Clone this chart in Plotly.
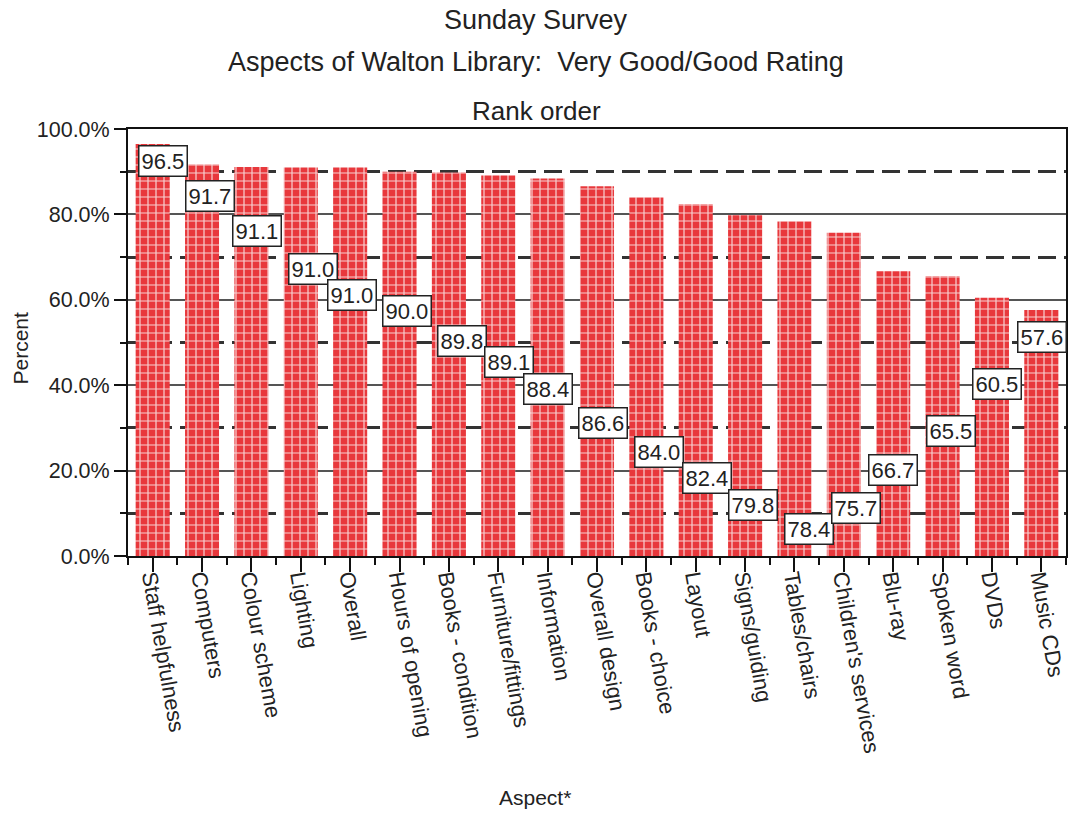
import plotly.graph_objects as go

categories = ["Staff helpfulness", "Computers", "Colour scheme", "Lighting", "Overall",
              "Hours of opening", "Books - condition", "Furniture/fittings", "Information",
              "Overall design", "Books - choice", "Layout", "Signs/guiding", "Tables/chairs",
              "Children's services", "Blu-ray", "Spoken word", "DVDs", "Music CDs"]
values = [96.5, 91.7, 91.1, 91.0, 91.0, 90.0, 89.8, 89.1, 88.4, 86.6,
          84.0, 82.4, 79.8, 78.4, 75.7, 66.7, 65.5, 60.5, 57.6]

# label box placement (data-percent height, pixel nudge right)
label_y = [92.4, 84.3, 76.1, 67.2, 61.1, 57.4, 50.4, 45.4, 39.1, 31.1,
           24.4, 18.3, 11.9, 6.3, 11.2, 20.1, 29.3, 40.3, 51.3]
label_dx = [10, 8, 5.5, 12, 2, 7, 13.5, 11, 0, 5.5, 13, 11, 8, 15, 12.5, 0, 8, 5, 1]

ytick_vals = [0, 20, 40, 60, 80, 100]

FONT = "Liberation Sans, Arial, sans-serif"
TXT = "#222222"

xpos = list(range(len(categories)))

fig = go.Figure()
fig.add_trace(go.Bar(
    x=xpos, y=values,
    marker=dict(
        color="#e8383c",
        line=dict(width=0),
        pattern=dict(shape="+", size=8, solidity=0.28,
                     fgcolor="#f8cfd0", bgcolor="#e8383c", fillmode="replace"),
    ),
    hoverinfo="x+y",
))

annotations = []
for i, v in enumerate(values):
    annotations.append(dict(
        x=xpos[i], y=label_y[i], xref="x", yref="y", text=f"{v:.1f}",
        showarrow=False, xshift=label_dx[i],
        font=dict(family=FONT, size=22, color=TXT),
        bgcolor="white", bordercolor="#222222", borderwidth=1.5, borderpad=2,
    ))

W, H = 1072, 814
ml, mr, mt, mb = 128, 6, 129, 258
pw = W - ml - mr
fig_center_x = (W / 2 - ml) / pw

titles = [("Sunday Survey", 20, 27),
          ("Aspects of Walton Library:\u00a0\u00a0Very Good/Good Rating", 62, 27),
          ("Rank order", 111, 26)]
for t, ypix, fs in titles:
    annotations.append(dict(
        x=fig_center_x, y=1, xref="paper", yref="paper", text=t, showarrow=False,
        yanchor="middle", xanchor="center", yshift=mt - ypix,
        font=dict(family=FONT, size=fs, color=TXT),
    ))

annotations.append(dict(
    x=(535 - ml) / pw, y=0, xref="paper", yref="paper", text="Aspect*", showarrow=False,
    yanchor="middle", xanchor="center", yshift=-(797 - (H - mb)),
    font=dict(family=FONT, size=21, color=TXT),
))
annotations.append(dict(
    x=0, y=0.5, xref="paper", yref="paper", text="Percent", showarrow=False,
    textangle=-90, xanchor="center", yanchor="middle", xshift=-(ml - 20), yshift=-6,
    font=dict(family=FONT, size=21, color=TXT),
))

fig.update_layout(
    width=W, height=H,
    margin=dict(l=ml, r=mr, t=mt, b=mb, autoexpand=False),
    paper_bgcolor="white", plot_bgcolor="white",
    showlegend=False, bargap=0.31,
    font=dict(family=FONT, size=22, color=TXT),
    annotations=annotations,
)

fig.update_xaxes(
    range=[-0.5, len(categories) - 0.5], automargin=False,
    tickmode="array", tickvals=xpos, ticktext=categories, tickangle=80,
    ticks="outside", ticklen=14, tickwidth=2, tickcolor="#111",
    ticklabelstandoff=-16,
    tickfont=dict(family=FONT, size=22, color=TXT),
    minor=dict(ticks="outside", ticklen=7, tickwidth=2, tickcolor="#111",
               tick0=0.5, dtick=1, showgrid=False),
    showline=True, linecolor="#111", linewidth=2, mirror=True,
    showgrid=False, zeroline=False, fixedrange=True,
)
fig.update_yaxes(
    range=[0, 100], automargin=False,
    tickmode="array", tickvals=ytick_vals,
    ticktext=[f"{v:.1f}%" for v in ytick_vals],
    ticks="outside", ticklen=12, tickwidth=2, tickcolor="#111",
    tickfont=dict(family=FONT, size=21.5, color=TXT),
    showgrid=True, gridcolor="#555555", gridwidth=1.5,
    minor=dict(ticks="outside", ticklen=6, tickwidth=2, tickcolor="#111",
               tick0=10, dtick=20, showgrid=True, gridcolor="#333333",
               gridwidth=2.5, griddash="18px,8px"),
    showline=True, linecolor="#111", linewidth=2, mirror=True,
    zeroline=False, fixedrange=True,
)

fig.write_html("out.html", config={"displayModeBar": False},
               post_script="document.body.style.margin='0';")
